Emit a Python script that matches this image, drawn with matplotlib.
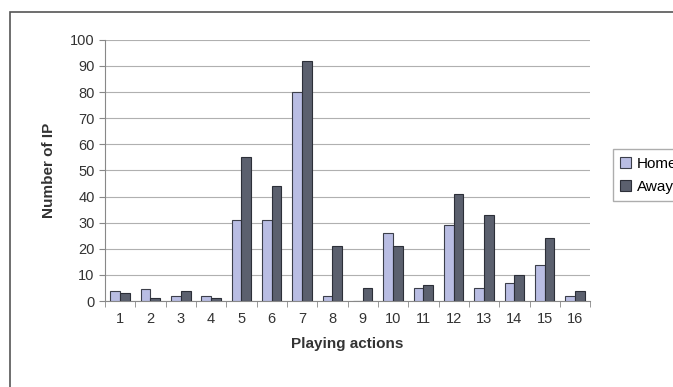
import numpy as np
from matplotlib import pyplot as plt
from matplotlib.patches import Rectangle

# data
actions = list(range(1, 17))
home = [4, 4.5, 2, 2, 31, 31, 80, 2, 0, 26, 5, 29, 5, 7, 14, 2]
away = [3, 1, 4, 1, 55, 44, 92, 21, 5, 21, 6, 41, 33, 10, 24, 4]

plt.rcParams['font.family'] = ['Liberation Sans', 'DejaVu Sans']

fig = plt.figure(figsize=(6.73, 3.87), dpi=100)
ax = fig.add_axes([0.156, 0.222, 0.721, 0.675])

x = np.arange(len(actions)) + 1
w = 0.32
b1 = ax.bar(x - w/2, home, w, color='#b9bde3', edgecolor='#3c3f4a', linewidth=0.8, label='Home', zorder=3)
b2 = ax.bar(x + w/2, away, w, color='#5b606e', edgecolor='#2c2f38', linewidth=0.8, label='Away', zorder=3)

ax.set_xlim(0.5, 16.5)
ax.set_ylim(0, 100)
ax.set_yticks(range(0, 101, 10))
ax.set_xticks(x)
ax.set_xticklabels([str(a) for a in actions])
ax.set_xticks(np.arange(0.5, 17, 1), minor=True)
ax.tick_params(axis='x', which='major', length=0, pad=8, labelsize=10.5, colors='#333333')
ax.tick_params(axis='x', which='minor', length=4, color='#888888')
ax.tick_params(axis='y', length=4, color='#888888', labelsize=10.5, labelcolor='#333333')
ax.grid(axis='y', color='#b0b0b0', linewidth=0.8, zorder=0)
for s in ['top', 'right']:
    ax.spines[s].set_visible(False)
for s in ['left', 'bottom']:
    ax.spines[s].set_color('#888888')

ax.set_ylabel('Number of IP', fontsize=11, fontweight='bold', color='#333333', labelpad=10)
ax.set_xlabel('Playing actions', fontsize=11, fontweight='bold', color='#333333', labelpad=8)

fig.legend(handles=[b1, b2], loc='upper left', bbox_to_anchor=(0.899, 0.635),
           fontsize=11, frameon=True, fancybox=False, edgecolor='#999999',
           handlelength=0.7, handleheight=0.7, handletextpad=0.4, borderpad=0.5,
           labelspacing=0.6)

# outer chart frame
fig.patches.append(Rectangle((0.015, -0.1), 1.1, 1.07, transform=fig.transFigure,
                             fill=False, edgecolor='#555555', linewidth=1.2))

fig.savefig('out.png', dpi=100)
